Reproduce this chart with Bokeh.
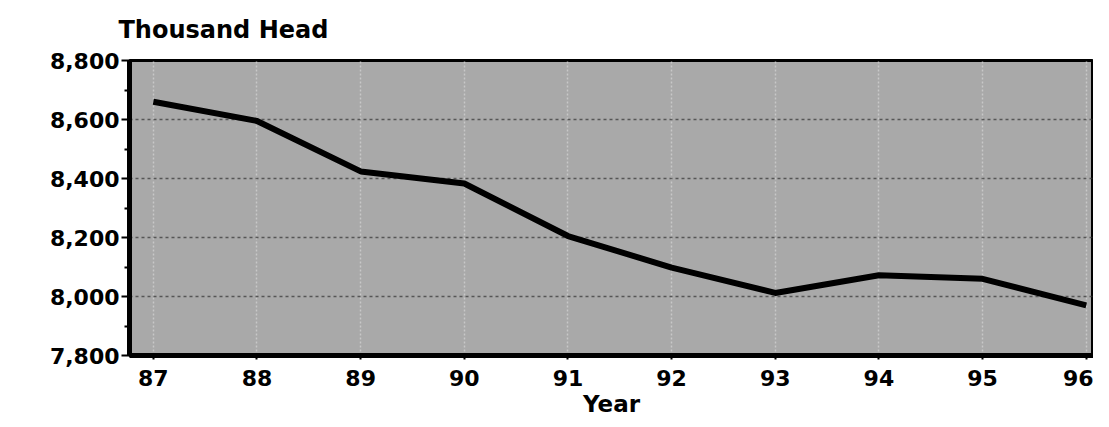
from bokeh.plotting import figure
from bokeh.models import NumeralTickFormatter, FixedTicker, Range1d
from bokeh.embed import file_html
from bokeh.resources import INLINE

years = [87, 88, 89, 90, 91, 92, 93, 94, 95, 96]
head = [8660, 8595, 8424, 8383, 8205, 8098, 8012, 8072, 8060, 7970]
y_ticks = [7800, 8000, 8200, 8400, 8600, 8800]
y_minor = [7900, 8100, 8300, 8500, 8700]
unit_label = "Thousand Head"
x_label = "Year"

FONT = "DejaVu Sans"

p = figure(width=1093, height=419, output_backend="svg", toolbar_location=None,
           x_range=Range1d(86.77, 96.07), y_range=Range1d(7800, 8800),
           min_border_left=129, min_border_right=0, min_border_top=60, min_border_bottom=0)

p.title.text = unit_label
p.title.align = "left"
p.title.vertical_align = "top"
p.title.text_font = FONT
p.title.text_font_style = "bold"
p.title.text_font_size = "24px"
p.title.text_color = "black"
p.title.offset = -11
p.title.standoff = 30

p.background_fill_color = "#a9a9a9"
p.border_fill_color = "white"
p.outline_line_color = "black"
p.outline_line_width = 3

p.line(years, head, line_color="black", line_width=6, line_join="round")

# axes
p.yaxis.ticker = FixedTicker(ticks=y_ticks, minor_ticks=y_minor)
p.yaxis.formatter = NumeralTickFormatter(format="0,0")
p.xaxis.ticker = FixedTicker(ticks=years)
for ax in (p.xaxis, p.yaxis):
    ax.axis_line_width = 5
    ax.axis_line_color = "black"
    ax.major_tick_line_color = "black"
    ax.major_tick_line_width = 2
    ax.minor_tick_line_color = "black"
    ax.minor_tick_line_width = 2
    ax.major_label_text_font = FONT
    ax.major_label_text_font_style = "bold"
    ax.major_label_text_font_size = "22px"
    ax.major_label_text_color = "black"
    ax.axis_label_text_font = FONT
    ax.axis_label_text_font_style = "bold"
    ax.axis_label_text_font_size = "23px"
    ax.axis_label_text_color = "black"

p.yaxis.major_tick_out = 8
p.yaxis.major_tick_in = 0
p.yaxis.minor_tick_out = 5
p.yaxis.minor_tick_in = 0
p.yaxis.major_label_standoff = 2

p.xaxis.major_tick_out = 4
p.xaxis.major_tick_in = 0
p.xaxis.minor_tick_line_color = None
p.xaxis.major_label_standoff = 10
p.xaxis.axis_label = x_label
p.xaxis.axis_label_standoff = 2

p.ygrid.grid_line_color = "#333333"
p.ygrid.grid_line_dash = "3 3"
p.ygrid.grid_line_width = 1.5
p.ygrid.grid_line_alpha = 0.7
p.xgrid.grid_line_color = "#d0d0d0"
p.xgrid.grid_line_dash = "2 2"
p.xgrid.grid_line_width = 1.5
p.xgrid.grid_line_alpha = 0.8

open("out.html", "w").write(file_html(p, INLINE))
